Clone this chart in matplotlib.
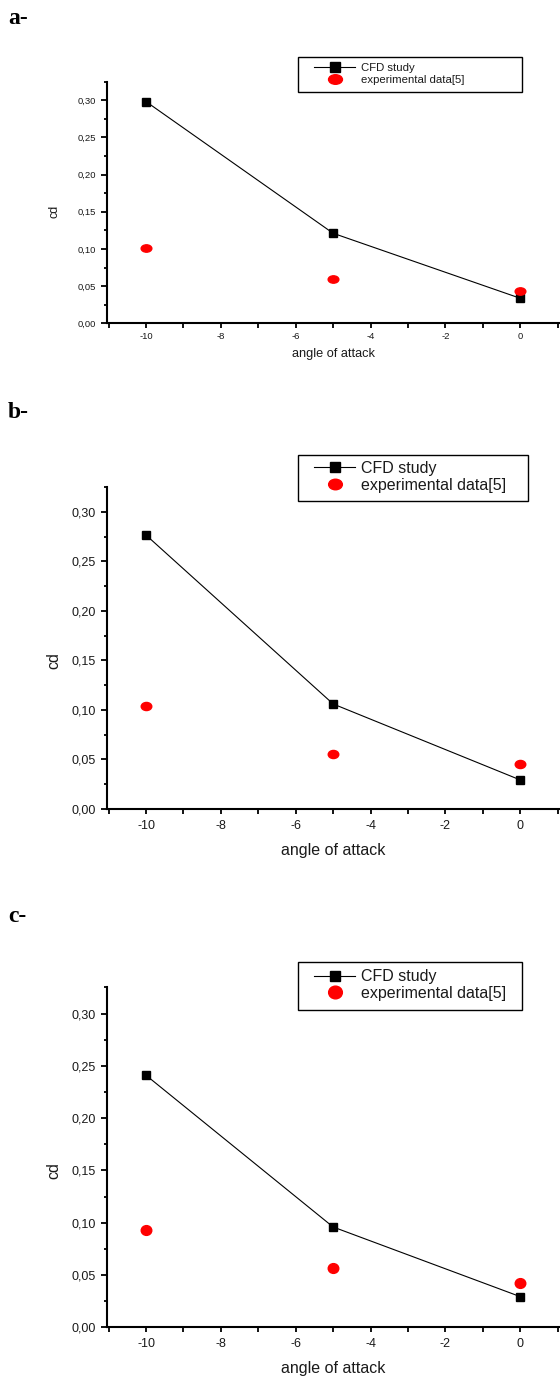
import matplotlib
matplotlib.use('Agg')
import matplotlib.pyplot as plt
from matplotlib.ticker import MultipleLocator, FixedLocator, FuncFormatter
from matplotlib.path import Path
from matplotlib.markers import MarkerStyle
from matplotlib.patches import Rectangle
import numpy as np

plt.rcParams['font.family'] = ['Liberation Sans', 'DejaVu Sans']
plt.rcParams['axes.unicode_minus'] = False

# ---------------- data ----------------
angles = [-10, -5, 0]
cfd_a = [0.298, 0.121, 0.0336]
exp_a = [0.1007, 0.0596, 0.043]
cfd_b = [0.2765, 0.106, 0.0293]
exp_b = [0.1039, 0.0555, 0.0451]
cfd_c = [0.241, 0.0959, 0.0293]
exp_c = [0.0933, 0.0571, 0.0424]
panel_labels = ['a-', 'b-', 'c-']
series_labels = ['CFD study', 'experimental data[5]']
x_label = 'angle of attack'
y_label = 'cd'
x_ticks = [-10, -8, -6, -4, -2, 0]
y_ticks = [0.00, 0.05, 0.10, 0.15, 0.20, 0.25, 0.30]

# ---------------- layout ----------------
W, H = 560, 1378
fig = plt.figure(figsize=(W / 100, H / 100), dpi=100)

XMIN, XMAX = -11.05, 1.05
YMIN, YMAX = 0.0, 0.325


def ellipse_marker(aspect):
    c = Path.unit_circle()
    return MarkerStyle(Path(c.vertices * np.array([aspect, 1.0]), c.codes))


panels = [
    dict(cfd=cfd_a, exp=exp_a, label=panel_labels[0], lab_y=24,
         box=(106.7, 81.5, 559.6, 323.3), tick_fs=6.8, lab_fs=9.2, ylab_fs=9,
         leg_fs=8.2, leg_box=(298, 57.3, 522, 92), leg_mid=73.9,
         leg_sep=15.7, xlab_y=354, ell_aspect=1.45, ell_size=7.7, sq=5.2,
         tick_pad_x=3.0, ylab_x=61),
    dict(cfd=cfd_b, exp=exp_b, label=panel_labels[1], lab_y=418,
         box=(106.7, 487.0, 559.6, 809.0), tick_fs=9, lab_fs=11.5, ylab_fs=11.5,
         leg_fs=11.5, leg_box=(298, 454.7, 528, 501), leg_mid=476.7,
         leg_sep=20.0, xlab_y=851, ell_aspect=1.3, ell_size=7.6, sq=5.3,
         tick_pad_x=4.5, ylab_x=61),
    dict(cfd=cfd_c, exp=exp_c, label=panel_labels[2], lab_y=922,
         box=(106.7, 987.4, 559.6, 1327.3), tick_fs=9, lab_fs=11.5, ylab_fs=11.5,
         leg_fs=11.5, leg_box=(298, 962.3, 522, 1010), leg_mid=985.0,
         leg_sep=20.0, xlab_y=1369, ell_aspect=1.08, ell_size=7.6, sq=5.3,
         tick_pad_x=4.5, ylab_x=61),
]

comma_fmt = FuncFormatter(lambda v, p: f"{v:.2f}".replace('.', ','))
int_fmt = FuncFormatter(lambda v, p: f"{int(round(v))}")
TXT = '#1a1a1a'

for P in panels:
    l, t, r, b = P['box']
    ax = fig.add_axes([l / W, 1 - b / H, (r - l) / W, (b - t) / H])
    ax.set_xlim(XMIN, XMAX)
    ax.set_ylim(YMIN, YMAX)
    for s in ('top', 'right'):
        ax.spines[s].set_visible(False)
    for s in ('left', 'bottom'):
        ax.spines[s].set_linewidth(1.5)
    ax.patch.set_visible(False)

    ax.xaxis.set_major_locator(FixedLocator(x_ticks))
    ax.xaxis.set_minor_locator(MultipleLocator(1))
    ax.yaxis.set_major_locator(FixedLocator(y_ticks))
    ax.yaxis.set_minor_locator(MultipleLocator(0.025))
    ax.xaxis.set_major_formatter(int_fmt)
    ax.yaxis.set_major_formatter(comma_fmt)
    ax.tick_params(axis='both', which='both', direction='out', width=1.3,
                   color='black', labelcolor=TXT)
    ax.tick_params(axis='x', which='major', length=3.5, pad=P['tick_pad_x'],
                   labelsize=P['tick_fs'])
    ax.tick_params(axis='x', which='minor', length=3.5)
    ax.tick_params(axis='y', which='major', length=4.5, pad=3.2,
                   labelsize=P['tick_fs'])
    ax.tick_params(axis='y', which='minor', length=2.5)

    ax.plot(angles, P['cfd'], color='black', lw=0.8, marker='s',
            markersize=P['sq'], markerfacecolor='black',
            markeredgecolor='black', label=series_labels[0], zorder=3,
            clip_on=False)
    ax.plot(angles, P['exp'], linestyle='none',
            marker=ellipse_marker(P['ell_aspect']), markersize=P['ell_size'],
            markerfacecolor='#ff0000', markeredgecolor='#ff0000',
            label=series_labels[1], zorder=4, clip_on=False)

    # axis labels
    ax.set_xlabel(x_label, fontsize=P['lab_fs'], color=TXT)
    ax.xaxis.label.set_va('center')
    ax.xaxis.set_label_coords(0.5, -(P['xlab_y'] - b) / (b - t))
    ax.set_ylabel(y_label, fontsize=P['ylab_fs'], color=TXT)
    ax.yaxis.set_label_coords((P['ylab_x'] - l) / (r - l), 0.15 / YMAX)

    # legend
    fs_px = P['leg_fs'] * 100 / 72
    text_h = 1.15 * fs_px
    lsp = max((P['leg_sep'] - text_h) / fs_px, 0.0)
    leg = ax.legend(loc='center left',
                    bbox_to_anchor=(314 / W, 1 - P['leg_mid'] / H),
                    bbox_transform=fig.transFigure, borderaxespad=0,
                    borderpad=0, frameon=False, fontsize=P['leg_fs'],
                    handlelength=41 / fs_px, handletextpad=6 / fs_px,
                    labelspacing=lsp, markerscale=1.3)
    for txt in leg.get_texts():
        txt.set_color(TXT)
    bl, bt, br, bb = P['leg_box']
    fig.patches.append(Rectangle((bl / W, 1 - bb / H), (br - bl) / W,
                                 (bb - bt) / H, transform=fig.transFigure,
                                 facecolor='none', edgecolor='black', lw=1.0))

    fig.text(8 / W, 1 - P['lab_y'] / H, P['label'], fontsize=17,
             fontweight='bold', family=['Liberation Serif', 'DejaVu Serif'],
             va='baseline', ha='left')

fig.savefig('out.png', dpi=100)
